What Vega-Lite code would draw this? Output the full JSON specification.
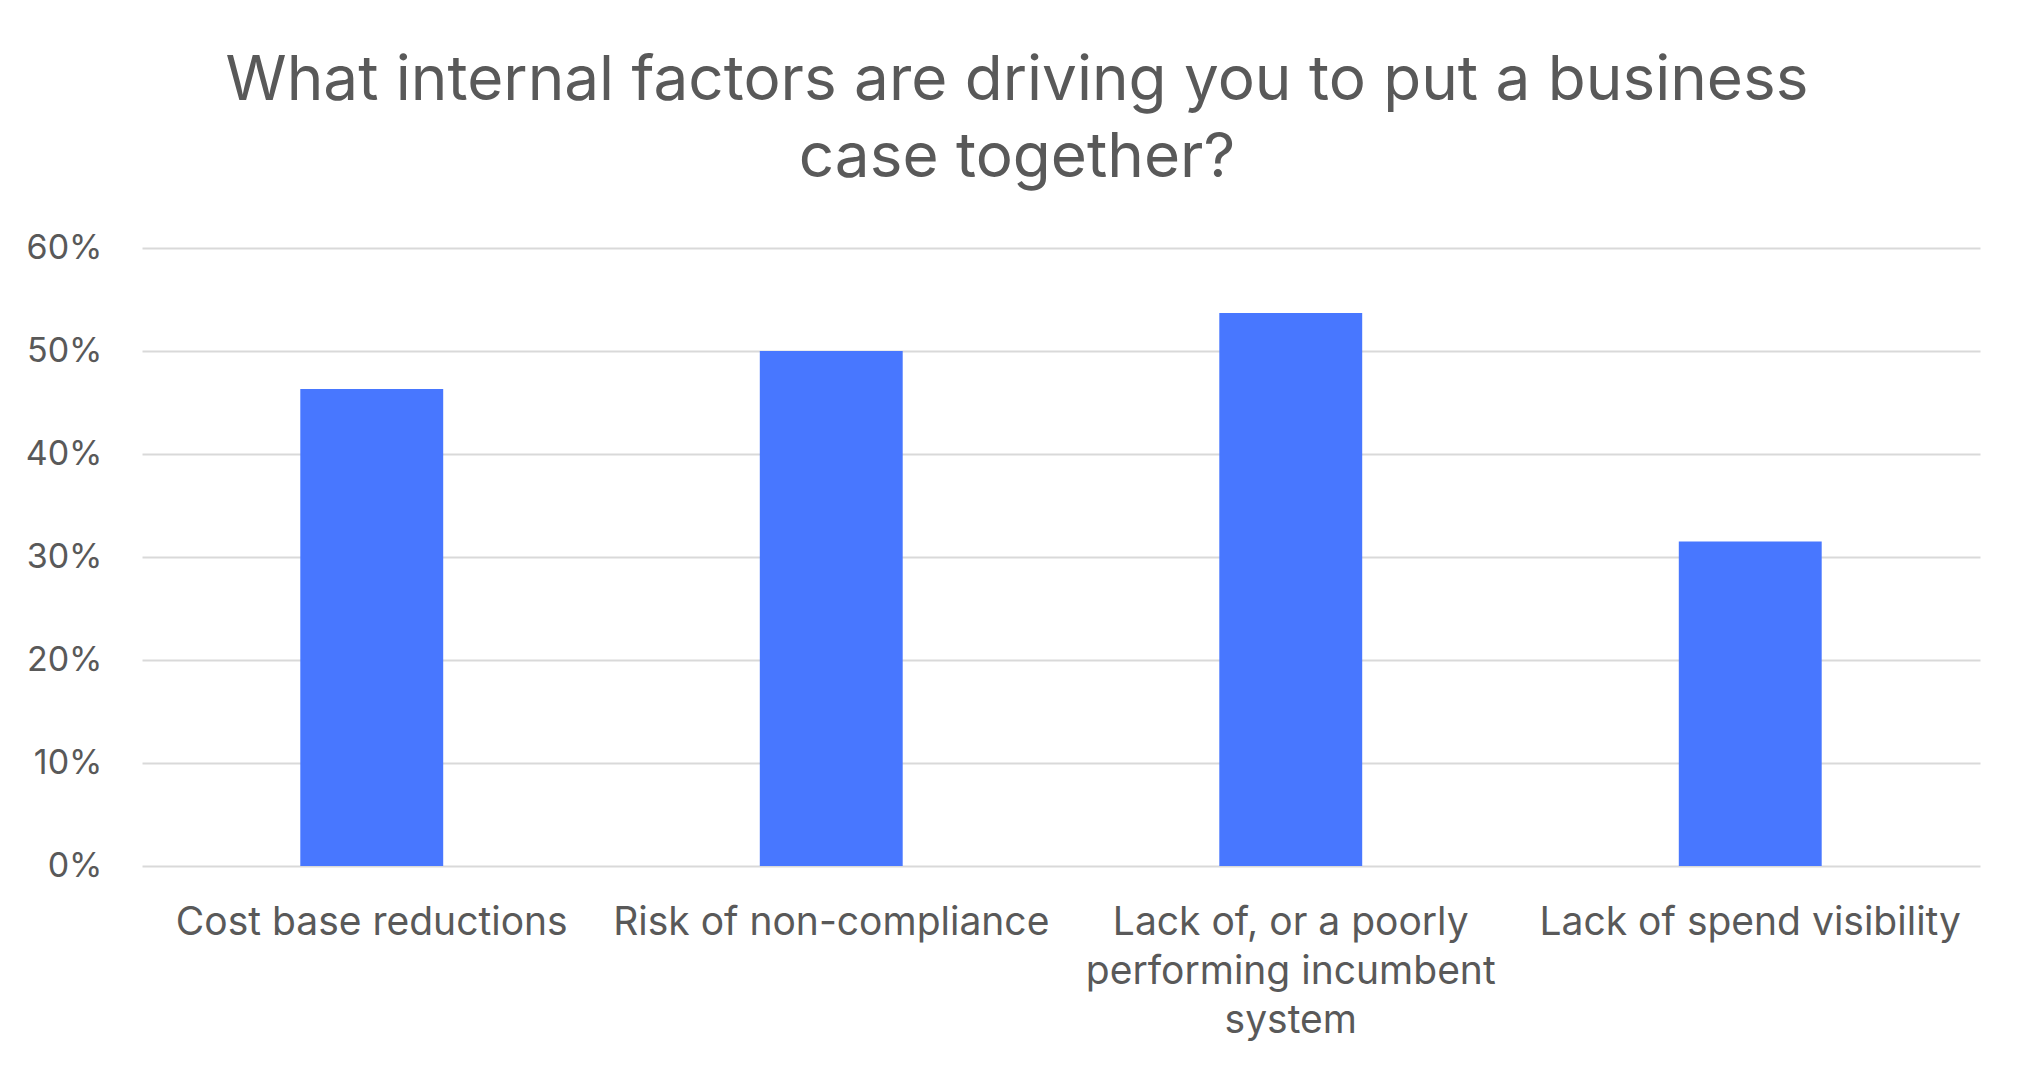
{
  "$schema": "https://vega.github.io/schema/vega-lite/v6.json",
  "width": 1838,
  "height": 618,
  "autosize": {"type": "none"},
  "padding": {"left": 142, "top": 248, "right": 55, "bottom": 215},
  "background": "white",
  "title": {
    "text": ["What internal factors are driving you to put a business", "case together?"],
    "anchor": "middle",
    "dx": -44,
    "font": "Inter",
    "fontSize": 62,
    "fontWeight": "normal",
    "color": "#595959",
    "lineHeight": 77,
    "baseline": "top",
    "offset": 41
  },
  "data": {
    "values": [
      {"factor": "Cost base reductions", "share": 0.463},
      {"factor": "Risk of non-compliance", "share": 0.5},
      {"factor": "Lack of, or a poorly performing incumbent system", "share": 0.537},
      {"factor": "Lack of spend visibility", "share": 0.315}
    ]
  },
  "mark": {"type": "bar", "color": "#4877FF"},
  "encoding": {
    "x": {
      "field": "factor",
      "type": "nominal",
      "sort": null,
      "scale": {"paddingInner": 0.689, "paddingOuter": 0.3445},
      "axis": {
        "title": null,
        "labelAngle": 0,
        "ticks": false,
        "domain": false,
        "labelPadding": 37,
        "labelFont": "Inter",
        "labelFontSize": 39,
        "labelColor": "#595959",
        "labelLimit": 0,
        "labelLineHeight": 49,
        "labelBaseline": "top",
        "labelExpr": "datum.label == 'Lack of, or a poorly performing incumbent system' ? ['Lack of, or a poorly', 'performing incumbent', 'system'] : datum.label"
      }
    },
    "y": {
      "field": "share",
      "type": "quantitative",
      "scale": {"domain": [0, 0.6], "nice": false},
      "axis": {
        "title": null,
        "values": [0, 0.1, 0.2, 0.3, 0.4, 0.5, 0.6],
        "format": ".0%",
        "ticks": false,
        "domain": false,
        "labelPadding": 40,
        "labelFont": "Inter",
        "labelFontSize": 34,
        "labelColor": "#595959",
        "gridColor": "#D9D9D9",
        "gridWidth": 2
      }
    }
  },
  "config": {"view": {"stroke": null}}
}
